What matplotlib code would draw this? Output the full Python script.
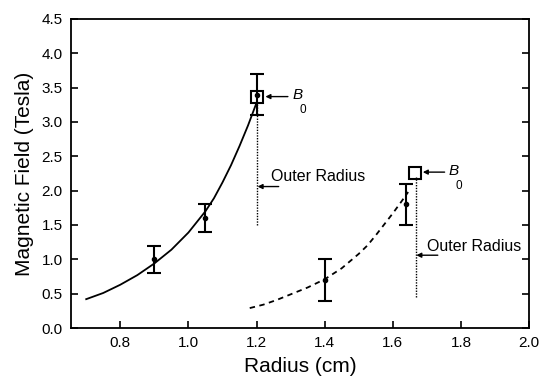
import matplotlib
matplotlib.use("Agg")
import matplotlib.pyplot as plt
from matplotlib.ticker import FormatStrFormatter

plt.rcParams['font.family'] = ['Liberation Sans', 'DejaVu Sans']

# Fitted field profile, inner coil (solid)
fit1_r = [0.70, 0.75, 0.80, 0.85, 0.90, 0.95, 1.00, 1.05, 1.075, 1.10, 1.125, 1.15, 1.175, 1.20]
fit1_b = [0.42, 0.51, 0.63, 0.77, 0.94, 1.14, 1.39, 1.70, 1.89, 2.12, 2.37, 2.65, 2.95, 3.28]

# Fitted field profile, outer coil (dashed)
fit2_r = [1.18, 1.22, 1.26, 1.30, 1.35, 1.40, 1.45, 1.50, 1.525, 1.55, 1.575, 1.60, 1.625, 1.645]
fit2_b = [0.29, 0.34, 0.41, 0.49, 0.59, 0.71, 0.87, 1.08, 1.20, 1.35, 1.51, 1.67, 1.84, 1.98]

# Measured fields with error bars
meas1_r = [0.90, 1.05, 1.20]
meas1_b = [1.00, 1.60, 3.40]
meas1_err = [0.20, 0.20, 0.30]

meas2_r = [1.40, 1.64]
meas2_b = [0.70, 1.80]
meas2_err = [0.30, 0.30]

# Field at the outer radius (B0)
b0_r = [1.20, 1.665]
b0_b = [3.37, 2.25]

# Outer radius markers: radius, bottom, top
outer_r = [1.20, 1.667]
outer_lo = [1.50, 0.45]
outer_hi = [3.30, 2.20]

fig = plt.figure(figsize=(5.41, 3.83), dpi=100)
ax = fig.add_axes([0.131, 0.1436, 0.847, 0.8068])

ax.plot(fit1_r, fit1_b, color='black', lw=1.3)
ax.plot(fit2_r, fit2_b, color='black', lw=1.3, linestyle=(0, (3, 2.5)))

for r, b, e in [(meas1_r, meas1_b, meas1_err), (meas2_r, meas2_b, meas2_err)]:
    ax.errorbar(r, b, yerr=e, fmt='o', color='black', markersize=3,
                elinewidth=1.5, capsize=5, capthick=1.5)

ax.plot(b0_r, b0_b, 's', markersize=8.5, markerfacecolor='none',
        markeredgecolor='black', markeredgewidth=1.5)

for r, lo, hi in zip(outer_r, outer_lo, outer_hi):
    ax.plot([r, r], [lo, hi], color='black', lw=1.0, linestyle=(0, (1, 1)))

arrow = dict(arrowstyle='-|>', color='black', lw=1.0,
             mutation_scale=7, shrinkA=0, shrinkB=0)

# B0 annotations
ax.annotate('', xy=(1.226, 3.37), xytext=(1.292, 3.37), arrowprops=arrow)
ax.text(1.305, 3.39, 'B', fontsize=11, fontstyle='italic', va='center', ha='left')
ax.text(1.326, 3.17, '0', fontsize=8.5, va='center', ha='left')

ax.annotate('', xy=(1.688, 2.27), xytext=(1.752, 2.27), arrowprops=arrow)
ax.text(1.763, 2.29, 'B', fontsize=11, fontstyle='italic', va='center', ha='left')
ax.text(1.784, 2.07, '0', fontsize=8.5, va='center', ha='left')

# Outer radius annotations
ax.annotate('', xy=(1.203, 2.06), xytext=(1.265, 2.06), arrowprops=arrow)
ax.text(1.242, 2.21, 'Outer Radius', fontsize=11.5, va='center', ha='left')

ax.annotate('', xy=(1.669, 1.06), xytext=(1.732, 1.06), arrowprops=arrow)
ax.text(1.70, 1.18, 'Outer Radius', fontsize=11.5, va='center', ha='left')

ax.set_xlim(0.655, 2.0)
ax.set_ylim(0.0, 4.5)
ax.set_xticks([0.8, 1.0, 1.2, 1.4, 1.6, 1.8, 2.0])
ax.set_yticks([0.0, 0.5, 1.0, 1.5, 2.0, 2.5, 3.0, 3.5, 4.0, 4.5])
ax.xaxis.set_major_formatter(FormatStrFormatter('%.1f'))
ax.yaxis.set_major_formatter(FormatStrFormatter('%.1f'))
ax.tick_params(direction='in', length=5, width=1.2, labelsize=11,
               top=False, right=True, pad=6)

for s in ax.spines.values():
    s.set_linewidth(1.3)

ax.set_xlabel('Radius (cm)', fontsize=15, labelpad=5)
ax.set_ylabel('Magnetic Field (Tesla)', fontsize=15, labelpad=5)

fig.savefig('out.png', dpi=100)
